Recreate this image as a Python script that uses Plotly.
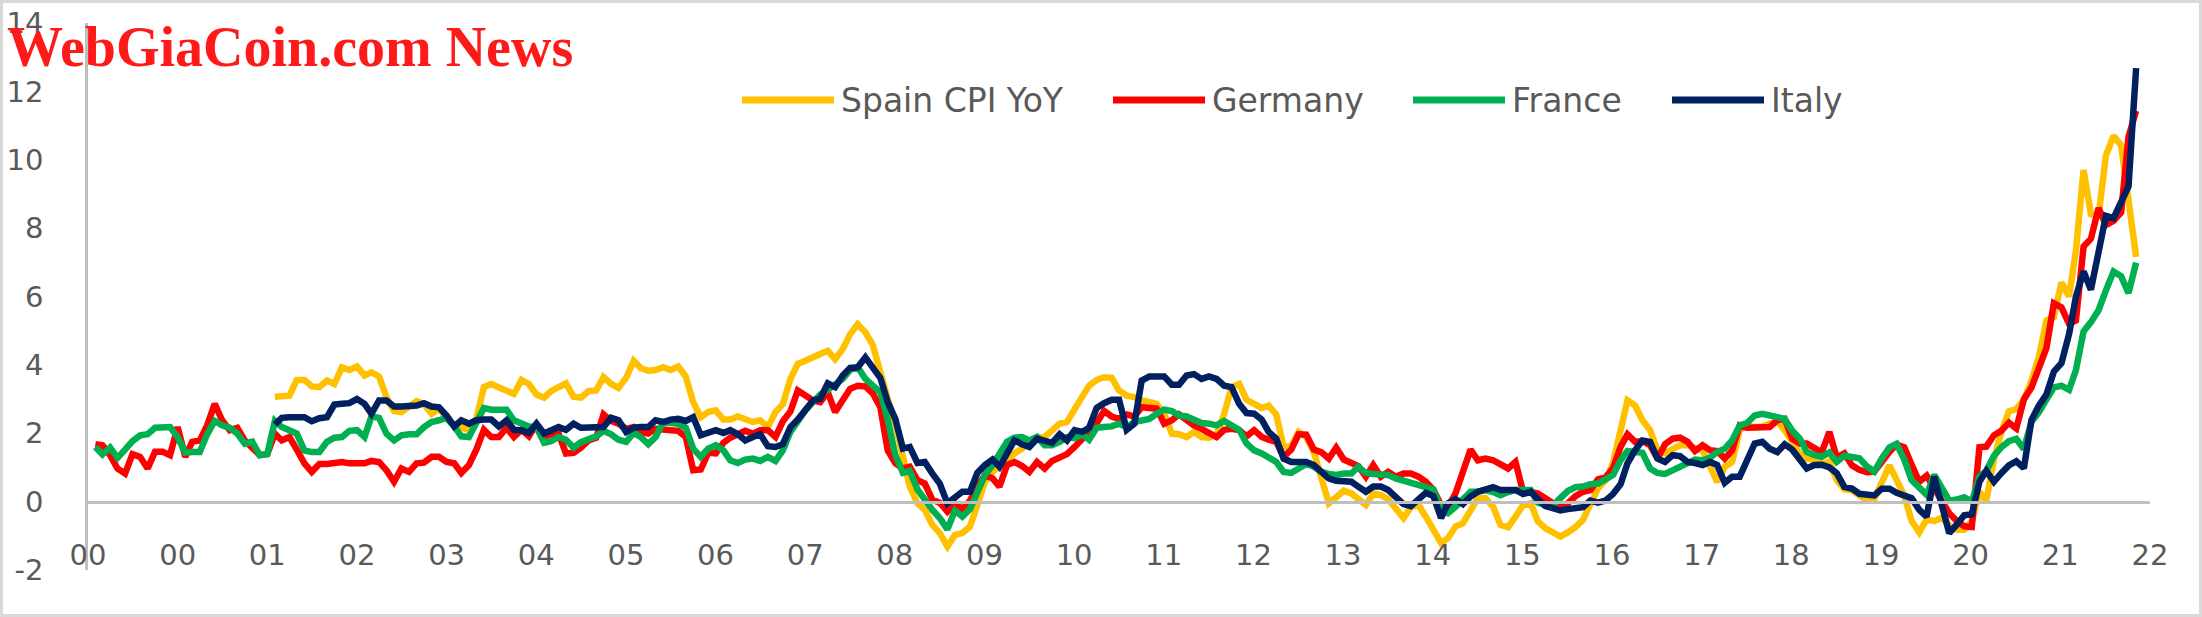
import pandas as pd
import plotly.graph_objects as go

# ---------------- data ----------------
series_names = ["Spain CPI YoY", "Germany", "France", "Italy"]
series_colors = ["#FFC000", "#FF0000", "#00B050", "#002060"]
series_start = ["2002-01-01", "2000-01-01", "2000-01-01", "2002-01-01"]

spain = [
    3.07, 3.07, 3.10, 3.56, 3.56, 3.37, 3.35, 3.54, 3.44, 3.93, 3.85, 3.95,
    3.69, 3.78, 3.66, 3.06, 2.65, 2.62, 2.76, 2.94, 2.86, 2.57,
    2.72, 2.42, 2.23, 2.16, 2.09, 2.42, 3.35, 3.44, 3.35, 3.27, 3.15, 3.56,
    3.44, 3.13, 3.04, 3.23, 3.37, 3.46, 3.07, 3.04, 3.23, 3.25, 3.64, 3.44,
    3.33, 3.62, 4.12, 3.91, 3.83, 3.85, 3.93, 3.85, 3.95, 3.66, 2.91, 2.47,
    2.62, 2.67, 2.40, 2.40, 2.49, 2.40, 2.33, 2.38, 2.18, 2.62,
    2.85, 3.59, 4.03, 4.12, 4.20, 4.32, 4.41, 4.17, 4.46, 4.90, 5.19, 4.95,
    4.59, 3.73, 3.01, 2.28, 1.31, 0.44, -0.05, -0.24, -0.68, -0.92, -1.31, -0.97,
    -0.92, -0.73, -0.10, 0.58, 0.87, 1.02, 1.21, 1.41, 1.55, 1.75, 1.87, 1.89,
    2.10, 2.28, 2.33, 2.74, 3.07, 3.39, 3.56, 3.64, 3.62, 3.25,
    3.10, 3.06, 2.96, 2.92, 2.86, 2.57, 1.99, 1.97, 1.89, 2.04, 1.89, 1.87,
    1.97, 2.57, 3.35, 3.44, 2.98, 2.86, 2.74, 2.81, 2.55, 1.60, 1.62, 2.04,
    1.89, 1.45, 0.63, -0.05, 0.13, 0.32, 0.24, 0.10, -0.10, 0.24, 0.19, 0.07,
    -0.24, -0.48, -0.16, -0.10, -0.44, -0.87, -1.21, -1.07, -0.73, -0.63, -0.29,
    0.10, 0.10, -0.15, -0.68, -0.75, -0.44, -0.10, -0.05, -0.58, -0.78, -0.92, -1.02,
    -0.90, -0.75, -0.53, -0.05, 0.39, 0.61, 1.12, 2.09, 2.96, 2.81, 2.38, 2.09,
    1.50, 1.41, 1.52, 1.65, 1.65, 1.60, 1.50, 1.02, 0.58, 1.02, 1.16, 2.09,
    2.23, 2.18, 2.20, 2.28, 2.36, 2.09, 1.72, 1.41, 1.26, 1.21,
    1.10, 1.18, 0.63, 0.36, 0.33, 0.16, 0.03, 0.08, 0.56, 1.06, 0.63, 0.18,
    -0.57, -0.90, -0.52, -0.57, -0.47, -0.70, -0.82, -0.82, -0.57, 0.28, 0.03, 1.23,
    2.04, 2.64, 2.71, 2.99, 3.54, 4.24, 5.30, 5.40, 6.41, 6.00, 7.36, 9.70,
    8.41, 8.36, 10.12, 10.70, 10.42, 8.71, 7.16,
]

germany = [
    1.68, 1.65, 1.36, 0.97, 0.82, 1.39, 1.31, 0.97, 1.46, 1.46, 1.36, 2.18,
    1.31, 1.75, 1.79, 2.23, 2.86, 2.38, 2.09, 2.16, 1.79, 1.60, 1.36, 1.39,
    1.99, 1.79, 1.89, 1.52, 1.12, 0.87, 1.10, 1.10, 1.12, 1.16, 1.12, 1.12,
    1.12, 1.19, 1.16, 0.92, 0.58, 0.97, 0.87, 1.12, 1.14, 1.31,
    1.31, 1.16, 1.12, 0.84, 1.07, 1.52, 2.10, 1.89, 1.89, 2.16, 1.89, 2.10,
    1.91, 2.26, 1.91, 1.97, 1.99, 1.41, 1.43, 1.58, 1.79, 1.87, 2.55, 2.36,
    2.28, 2.13, 2.18, 2.04, 1.99, 2.13, 2.09, 2.09, 2.07, 1.89, 0.92, 0.94,
    1.43, 1.41, 1.72, 1.87, 1.97, 2.07, 1.99, 2.09, 2.09, 1.89,
    2.35, 2.64, 3.25, 3.10, 2.96, 2.91, 3.20, 2.62, 2.94, 3.30, 3.39, 3.37,
    3.17, 2.76, 1.50, 1.12, 0.97, 1.02, 0.63, 0.53, 0.05, -0.03, -0.29, -0.05,
    -0.22, 0.03, 0.44, 0.78, 0.68, 0.44, 1.07, 1.16, 1.04, 0.87, 1.16, 0.97,
    1.19, 1.29, 1.39, 1.60, 1.81, 2.04, 2.30, 2.65, 2.49, 2.42,
    2.55, 2.49, 2.76, 2.76, 2.72, 2.28, 2.38, 2.55, 2.36, 2.23, 2.13, 2.01,
    1.89, 2.10, 2.13, 2.09, 1.91, 2.09, 1.89, 1.81, 1.75, 1.31, 1.52, 1.97,
    1.96, 1.52, 1.45, 1.26, 1.58, 1.23, 1.12, 1.04, 0.73, 1.07, 0.73, 0.87,
    0.73, 0.82, 0.82, 0.73, 0.58, 0.34, -0.10, -0.15, 0.24, 0.84, 1.52,
    1.21, 1.26, 1.21, 1.07, 0.97, 1.16, 0.29, 0.29, 0.24, 0.10, -0.05, -0.19,
    -0.05, 0.16, 0.29, 0.34, 0.65, 0.71, 0.97, 1.60, 1.97, 1.75, 1.77, 1.65,
    1.26, 1.68, 1.84, 1.87, 1.75, 1.48, 1.65, 1.50, 1.48, 1.26, 1.50, 2.23,
    2.16, 2.18, 2.16, 2.18, 2.38, 2.42, 1.84, 1.70, 1.70, 1.55,
    1.44, 2.04, 1.29, 1.41, 1.06, 0.93, 0.86, 0.88, 1.18, 1.46, 1.67, 1.59,
    1.08, 0.58, 0.76, 0.38, -0.02, -0.34, -0.57, -0.72, -0.74, 1.59, 1.61, 1.94,
    2.07, 2.31, 2.14, 2.99, 3.34, 3.92, 4.50, 5.80, 5.68, 5.20, 5.30, 7.46,
    7.69, 8.59, 8.09, 8.21, 8.46, 10.67, 11.43,
]

france = [
    1.60, 1.38, 1.58, 1.28, 1.52, 1.77, 1.94, 1.97, 2.16, 2.18, 2.18, 1.89,
    1.43, 1.45, 1.45, 1.97, 2.36, 2.23, 2.16, 1.99, 1.70, 1.75, 1.36, 1.39,
    2.36, 2.18, 2.09, 1.99, 1.50, 1.45, 1.45, 1.75, 1.87, 1.89, 2.07, 2.09,
    1.89, 2.49, 2.45, 1.99, 1.79, 1.94, 1.97, 1.97, 2.18, 2.33,
    2.38, 2.45, 2.20, 1.91, 1.89, 2.30, 2.74, 2.69, 2.69, 2.69, 2.38, 2.30,
    2.20, 2.18, 1.72, 1.77, 1.89, 1.81, 1.58, 1.74, 1.81, 1.91, 2.07, 1.97,
    1.81, 1.75, 2.01, 1.89, 1.68, 1.89, 2.33, 2.32, 2.28, 2.16, 1.55, 1.31,
    1.55, 1.65, 1.50, 1.21, 1.13, 1.23, 1.26, 1.19, 1.31, 1.19,
    1.50, 2.04, 2.38, 2.67, 2.91, 3.13, 3.27, 3.42, 3.59, 3.85, 3.93, 3.59,
    3.39, 3.20, 2.40, 1.36, 0.84, 0.90, 0.36, 0.05, -0.24, -0.48, -0.81, -0.26,
    -0.44, -0.22, 0.24, 0.78, 1.07, 1.41, 1.75, 1.87, 1.89, 1.79, 1.89, 1.65,
    1.65, 1.75, 1.89, 1.86, 1.97, 1.81, 2.16, 2.18, 2.20, 2.28,
    2.18, 2.33, 2.38, 2.42, 2.57, 2.69, 2.65, 2.52, 2.49, 2.40, 2.30, 2.28,
    2.23, 2.36, 2.23, 2.10, 1.70, 1.50, 1.41, 1.29, 1.16, 0.87, 0.84, 0.97,
    1.10, 1.02, 0.87, 0.81, 0.78, 0.82, 0.82, 1.02, 0.84, 0.81, 0.81, 0.78,
    0.68, 0.61, 0.53, 0.47, 0.42, 0.36, -0.24, -0.34, -0.15, 0.07, 0.29,
    0.29, 0.34, 0.28, 0.19, 0.28, 0.34, 0.34, 0.34, -0.03, -0.10, -0.11, 0.10,
    0.31, 0.42, 0.44, 0.51, 0.53, 0.65, 0.78, 1.21, 1.48, 1.45, 1.43, 0.97,
    0.84, 0.81, 0.92, 1.04, 1.12, 1.23, 1.21, 1.29, 1.45, 1.55, 1.79, 2.23,
    2.30, 2.52, 2.57, 2.54, 2.47, 2.42, 2.07, 1.84, 1.45, 1.36,
    1.31, 1.44, 1.16, 1.34, 1.31, 1.27, 1.03, 0.88, 1.27, 1.59, 1.69, 1.23,
    0.63, 0.40, 0.20, 0.78, 0.43, 0.03, 0.06, 0.13, 0.00, 0.73, 0.90, 1.34,
    1.59, 1.77, 1.84, 1.54, 2.34, 2.61, 2.99, 3.34, 3.39, 3.27, 3.85, 4.98,
    5.25, 5.60, 6.18, 6.73, 6.59, 6.10, 6.99,
]

italy = [
    2.26, 2.45, 2.47, 2.47, 2.47, 2.35, 2.44, 2.47, 2.84, 2.86, 2.88, 3.00,
    2.86, 2.57, 2.96, 2.96, 2.78, 2.78, 2.78, 2.81, 2.88, 2.78,
    2.76, 2.52, 2.20, 2.38, 2.28, 2.38, 2.40, 2.40, 2.20, 2.38, 2.10, 2.09,
    2.01, 2.28, 1.99, 2.10, 2.18, 2.10, 2.28, 2.16, 2.16, 2.16, 2.18, 2.45,
    2.38, 2.04, 2.16, 2.18, 2.18, 2.38, 2.33, 2.40, 2.42, 2.36, 2.47, 1.94,
    1.99, 2.09, 2.01, 2.09, 1.97, 1.79, 1.89, 1.97, 1.62, 1.60,
    1.68, 2.18, 2.40, 2.67, 2.96, 3.01, 3.46, 3.35, 3.69, 3.91, 3.93, 4.22,
    3.95, 3.62, 2.91, 2.42, 1.55, 1.60, 1.13, 1.16, 0.82, 0.53, -0.05, 0.10,
    0.29, 0.29, 0.84, 1.07, 1.23, 1.02, 1.41, 1.79, 1.68, 1.60, 1.84, 1.79,
    1.72, 1.97, 1.79, 2.09, 2.04, 2.16, 2.74, 2.88, 2.98, 2.98,
    2.10, 2.28, 3.54, 3.66, 3.66, 3.66, 3.42, 3.42, 3.69, 3.73, 3.59, 3.66,
    3.59, 3.39, 3.35, 2.86, 2.59, 2.57, 2.40, 2.04, 1.84, 1.26, 1.16, 1.16,
    1.16, 1.07, 0.87, 0.68, 0.61, 0.58, 0.58, 0.44, 0.29, 0.44, 0.44, 0.34,
    0.15, -0.07, -0.13, 0.05, 0.26, 0.16, -0.48, -0.05, 0.07, -0.07, 0.15,
    0.29, 0.36, 0.42, 0.34, 0.32, 0.34, 0.22, 0.29, 0.07, -0.13, -0.19, -0.26,
    -0.22, -0.19, -0.16, 0.03, -0.03, 0.03, 0.22, 0.51, 1.12, 1.50, 1.79, 1.75,
    1.26, 1.16, 1.36, 1.33, 1.16, 1.13, 1.07, 1.16, 1.07, 0.55, 0.73, 0.73,
    1.19, 1.70, 1.75, 1.55, 1.45, 1.68, 1.52, 1.19, 0.97, 1.07,
    1.08, 1.00, 0.83, 0.43, 0.38, 0.23, 0.18, 0.18, 0.38, 0.38, 0.26, 0.16,
    0.10, -0.24, -0.44, 0.73, -0.12, -0.92, -0.67, -0.40, -0.37, 0.58, 0.90, 0.58,
    0.83, 1.06, 1.18, 0.98, 2.39, 2.81, 3.14, 3.80, 4.05, 4.90, 6.00, 6.73,
    6.20, 7.29, 8.36, 8.29, 8.80, 9.22, 12.68,
]

tick_labels = ["00", "00", "01", "02", "03", "04", "05", "06", "07", "08", "09", "10",
               "11", "12", "13", "14", "15", "16", "17", "18", "19", "20", "21", "22"]
y_tick_values = [-2, 0, 2, 4, 6, 8, 10, 12, 14]
y_tick_labels = ["-2", "0", "2", "4", "6", "8", "10", "12", "14"]
y_range = [-2, 14]

# ---------------- figure ----------------
series_values = [spain, germany, france, italy]

PLOT_L, PLOT_R, PLOT_T, PLOT_B = 88, 2150, 23, 570
W, H = 2202, 617
pw, ph = PLOT_R - PLOT_L, PLOT_B - PLOT_T

def px_x(x):
    return (x - PLOT_L) / pw

def px_y(y):
    return (PLOT_B - y) / ph

fig = go.Figure()
for name, color, start, vals in zip(series_names, series_colors, series_start, series_values):
    dates = pd.date_range(start=start, periods=len(vals), freq="MS") + pd.offsets.MonthEnd(0)
    fig.add_trace(go.Scatter(x=dates, y=vals, mode="lines", name=name,
                             line=dict(color=color, width=6.5)))

base = pd.Timestamp("2000-01-01")
tick_vals = [base + pd.Timedelta(days=365 * k) for k in range(len(tick_labels))]
x_range = [tick_vals[0], tick_vals[-1] + pd.Timedelta(hours=12)]

axis_gray = "#BFBFBF"
text_gray = "#595959"
tick_font = dict(family="DejaVu Sans", size=29, color=text_gray)

fig.update_layout(
    width=W, height=H,
    margin=dict(l=PLOT_L, r=W - PLOT_R, t=PLOT_T, b=H - PLOT_B, pad=0, autoexpand=False),
    paper_bgcolor="white", plot_bgcolor="white",
    showlegend=False,
    xaxis=dict(type="date", range=x_range, tickmode="array", tickvals=tick_vals,
               ticktext=tick_labels, showgrid=False, zeroline=False,
               showline=True, linecolor=axis_gray, linewidth=2.5,
               anchor="free", position=(0 - y_range[0]) / (y_range[1] - y_range[0]),
               ticks="", tickfont=tick_font, ticklabelstandoff=27, automargin=False),
    yaxis=dict(range=y_range, tickmode="array", tickvals=y_tick_values,
               ticktext=y_tick_labels, showgrid=False, zeroline=False,
               showline=True, linecolor=axis_gray, linewidth=2.5,
               ticks="", tickfont=tick_font, ticklabelstandoff=36, automargin=False),
)

# legend (drawn manually to get long line samples)
legend_x = [742, 1113, 1413, 1672]
legend_y = 100
for name, color, lx in zip(series_names, series_colors, legend_x):
    fig.add_shape(type="line", xref="paper", yref="paper",
                  x0=px_x(lx), x1=px_x(lx + 92), y0=px_y(legend_y), y1=px_y(legend_y),
                  line=dict(color=color, width=7))
    fig.add_annotation(text=name, xref="paper", yref="paper", x=px_x(lx + 97),
                       y=px_y(legend_y), xanchor="left", yanchor="middle", showarrow=False,
                       font=dict(family="DejaVu Sans", size=33, color=text_gray))

# watermark title
fig.add_annotation(text="<b>WebGiaCoin.com News</b>", xref="paper", yref="paper",
                   x=px_x(5), y=px_y(47), xanchor="left", yanchor="middle", showarrow=False,
                   font=dict(family="Liberation Serif", size=56, color="#FF1A1A"))

# outer border
fig.add_shape(type="rect", xref="paper", yref="paper",
              x0=px_x(1.5), x1=px_x(W - 1.5), y0=px_y(H - 1.5), y1=px_y(1.5),
              line=dict(color="#D9D9D9", width=3), fillcolor="rgba(0,0,0,0)")

fig.write_html(
    "out.html",
    config={"displayModeBar": False},
    post_script="document.body.style.margin='0';document.body.style.padding='0';"
                "document.documentElement.style.overflow='hidden';",
)
